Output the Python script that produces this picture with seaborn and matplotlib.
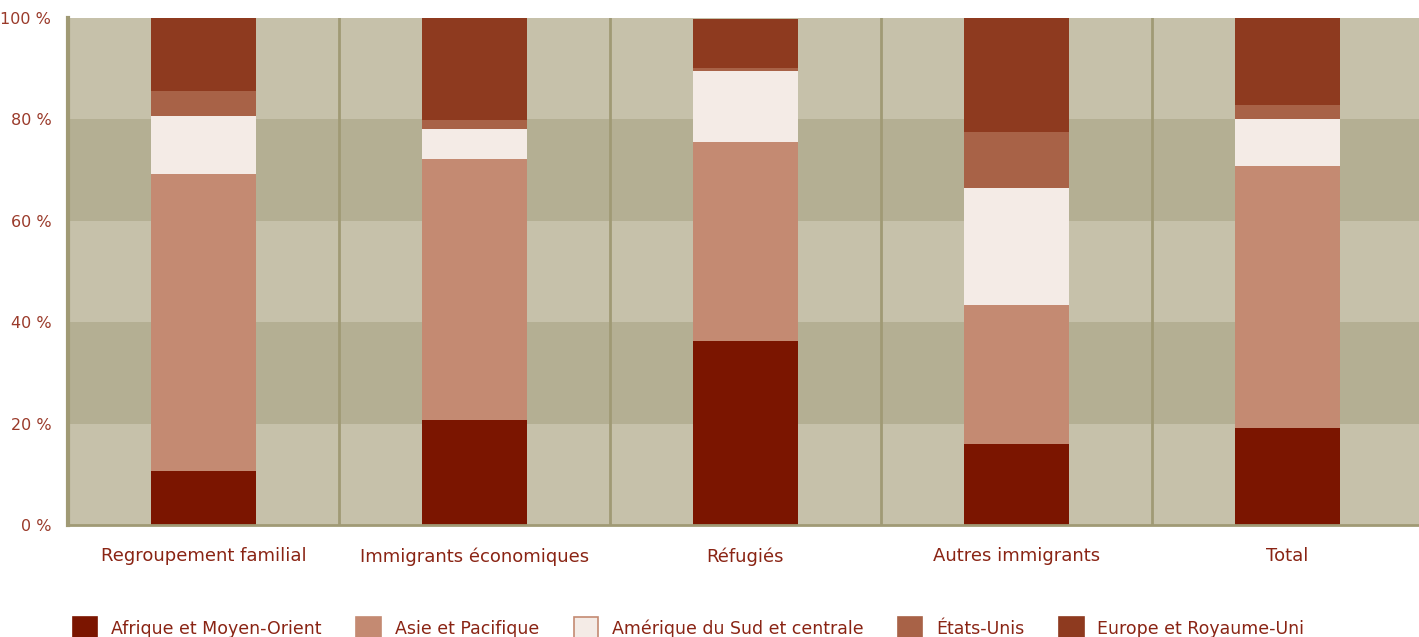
import numpy as np
import pandas as pd
import matplotlib
matplotlib.use("Agg")
import matplotlib.pyplot as plt
import seaborn as sns
from matplotlib.patches import Patch

# categories and shares (%)
categories = ["Regroupement familial", "Immigrants économiques", "Réfugiés",
              "Autres immigrants", "Total"]
afrique = [10.7, 20.7, 36.3, 16.0, 19.1]
asie = [58.5, 51.5, 39.2, 27.4, 51.7]
amerique = [11.5, 5.9, 14.0, 23.1, 9.3]
etats_unis = [4.9, 1.8, 0.6, 11.0, 2.7]
europe = [14.4, 20.1, 9.7, 22.5, 17.2]

series_names = ["Afrique et Moyen-Orient", "Asie et Pacifique",
                "Amérique du Sud et centrale", "États-Unis", "Europe et Royaume-Uni"]
colors = ["#7b1500", "#c48a72", "#f4ebe6", "#a86247", "#8e3a1f"]
yticks = [0, 20, 40, 60, 80, 100]

df = pd.DataFrame({"Catégorie": categories,
                   series_names[0]: afrique,
                   series_names[1]: asie,
                   series_names[2]: amerique,
                   series_names[3]: etats_unis,
                   series_names[4]: europe})
cum = df[series_names].cumsum(axis=1)

text_color = "#8a2414"
tick_color = "#9a3a2a"
line_color = "#a09a75"

fig = plt.figure(figsize=(14.19, 6.37), dpi=100)
# axes run slightly past the right edge of the figure, as in the original
ax = fig.add_axes([68 / 1419, 1 - 525 / 637, 1355 / 1419, 507 / 637])

# alternating horizontal bands
for i in range(5):
    ax.axhspan(yticks[i], yticks[i + 1], color="#c6c1aa" if i % 2 == 0 else "#b4af93",
               lw=0, zorder=0)
for x in np.arange(0.5, 4.5, 1):
    ax.axvline(x, color=line_color, lw=2, zorder=1)

# stacked bars: draw cumulative totals from the top down
for name, col in reversed(list(zip(series_names, colors))):
    sns.barplot(x=df["Catégorie"], y=cum[name], color=col, width=0.39,
                saturation=1, ax=ax, zorder=2, linewidth=0)

ax.set_xlim(-0.5, 4.5)
ax.set_ylim(0, 100)
ax.set_yticks(yticks)
ax.set_yticklabels([f"{v} %" for v in yticks])
ax.set_xlabel("")
ax.set_ylabel("")
ax.tick_params(axis="both", length=0)
ax.tick_params(axis="x", pad=16, labelsize=13, colors=text_color)
ax.tick_params(axis="y", pad=12, labelsize=11.5, colors=tick_color)
for s in ["top", "right"]:
    ax.spines[s].set_visible(False)
ax.spines["left"].set_color(line_color)
ax.spines["left"].set_linewidth(3)
ax.spines["bottom"].set_color(line_color)
ax.spines["bottom"].set_linewidth(2)
ax.spines["left"].set_zorder(3)
ax.spines["bottom"].set_zorder(3)

handles = [Patch(facecolor=c, edgecolor=("#c48a72" if i == 2 else c), lw=1.2)
           for i, c in enumerate(colors)]
leg = fig.legend(handles, series_names, loc="upper left", ncol=5,
                 bbox_to_anchor=(66 / 1419, 1 - 610 / 637), frameon=False,
                 fontsize=12.5, handlelength=1.4, handleheight=1.7,
                 handletextpad=0.8, columnspacing=2.0, borderaxespad=0)
for t in leg.get_texts():
    t.set_color(text_color)

fig.savefig("out.png", dpi=100)
